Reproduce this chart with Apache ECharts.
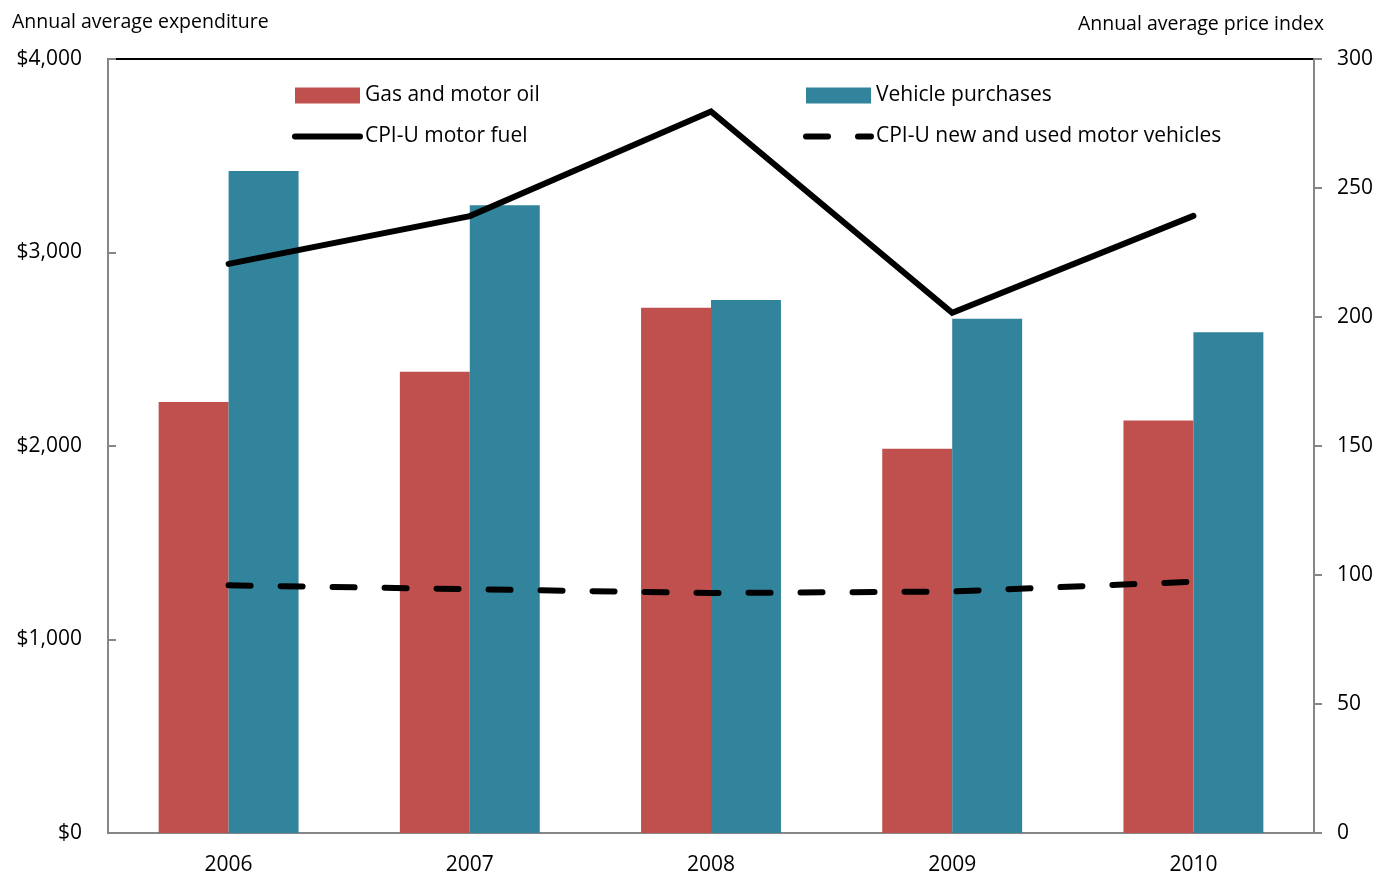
<!DOCTYPE html>
<html>
<head>
<meta charset="utf-8">
<script src="https://cdn.jsdelivr.net/npm/echarts@6/dist/echarts.min.js"></script>
<style>
html,body{margin:0;padding:0;background:#fff;}
#chart{width:1377px;height:876px;}
</style>
</head>
<body>
<div id="chart"></div>
<script>
const years = ['2006', '2007', '2008', '2009', '2010'];
const gasMotorOil = [2227, 2384, 2715, 1986, 2132];
const vehiclePurchases = [3421, 3244, 2755, 2657, 2588];
const cpiMotorFuel = [220.6, 239.1, 279.7, 201.6, 239.2];
const cpiVehicles = [96.0, 94.5, 93.0, 93.6, 97.4];
const leftTicks = [0, 1000, 2000, 3000, 4000];
const rightTicks = [0, 50, 100, 150, 200, 250, 300];

const FONT = '"Open Sans", Lato, sans-serif';
const chart = echarts.init(document.getElementById('chart'), null, {renderer: 'canvas'});
const legendText = {fontSize: 21, fontFamily: FONT, color: '#000'};
const option = {
  animation: false,
  backgroundColor: '#fff',
  textStyle: {fontFamily: FONT, color: '#000'},
  grid: {left: 108, right: 63, top: 59, bottom: 43, containLabel: false, outerBoundsMode: 'none',
    show: true, borderColor: '#000', borderWidth: 2, backgroundColor: 'transparent'},
  graphic: [
    {type: 'text', left: 12, top: 12, style: {text: 'Annual average expenditure', font: '19.5px ' + FONT, fill: '#000'}},
    {type: 'text', right: 53, top: 14, style: {text: 'Annual average price index', font: '19.5px ' + FONT, fill: '#000'}}
  ],
  legend: [
    {
      orient: 'vertical', left: 292, top: 85, padding: 0, itemWidth: 65, itemHeight: 16, itemGap: 20,
      textStyle: legendText,
      data: [
        {name: 'Gas and motor oil', icon: 'rect'},
        {name: 'CPI-U motor fuel', itemStyle: {opacity: 0},
          lineStyle: {width: 6, color: '#000', cap: 'round', type: 'solid'}}
      ]
    },
    {
      orient: 'vertical', left: 803, top: 85, padding: 0, itemWidth: 65, itemHeight: 16, itemGap: 20,
      textStyle: legendText,
      data: [
        {name: 'Vehicle purchases', icon: 'rect'},
        {name: 'CPI-U new and used motor vehicles', itemStyle: {opacity: 0},
          lineStyle: {width: 6, color: '#000', cap: 'round', type: [22, 30]}}
      ]
    }
  ],
  xAxis: [
    {
      type: 'category', data: years, position: 'bottom',
      axisLine: {lineStyle: {color: '#868686', width: 2}},
      axisTick: {show: false},
      axisLabel: {fontSize: 21, color: '#000', margin: 22, fontFamily: FONT}
    }
  ],
  yAxis: [
    {
      type: 'value', min: 0, max: 4000, interval: 1000, position: 'left',
      axisLine: {show: true, lineStyle: {color: '#868686', width: 2}},
      axisTick: {show: true, inside: true, length: 8, lineStyle: {color: '#868686', width: 2}},
      splitLine: {show: false},
      axisLabel: {fontSize: 21, color: '#000', margin: 26, fontFamily: FONT, padding: [3, 0, 0, 0],
        formatter: v => '$' + v.toLocaleString('en-US')}
    },
    {
      type: 'value', min: 0, max: 300, interval: 50, position: 'right',
      axisLine: {show: true, lineStyle: {color: '#868686', width: 2}},
      axisTick: {show: true, inside: false, length: 8, lineStyle: {color: '#868686', width: 2}},
      splitLine: {show: false},
      axisLabel: {fontSize: 21, color: '#000', margin: 23, fontFamily: FONT, padding: [3, 0, 0, 0]}
    }
  ],
  series: [
    {
      name: 'Gas and motor oil', type: 'bar', data: gasMotorOil, yAxisIndex: 0,
      barGap: '0%', barCategoryGap: '42%', itemStyle: {color: '#C0504D'}
    },
    {
      name: 'Vehicle purchases', type: 'bar', data: vehiclePurchases, yAxisIndex: 0,
      barGap: '0%', barCategoryGap: '42%', itemStyle: {color: '#31849B'}
    },
    {
      name: 'CPI-U motor fuel', type: 'line', data: cpiMotorFuel, yAxisIndex: 1,
      symbol: 'none', itemStyle: {color: '#000'},
      lineStyle: {color: '#000', width: 6, cap: 'round', join: 'miter'}
    },
    {
      name: 'CPI-U new and used motor vehicles', type: 'line', data: cpiVehicles, yAxisIndex: 1,
      symbol: 'none', itemStyle: {color: '#000'},
      lineStyle: {color: '#000', width: 6, type: [22, 30], cap: 'round'}
    }
  ]
};
chart.setOption(option);
</script>
</body>
</html>
